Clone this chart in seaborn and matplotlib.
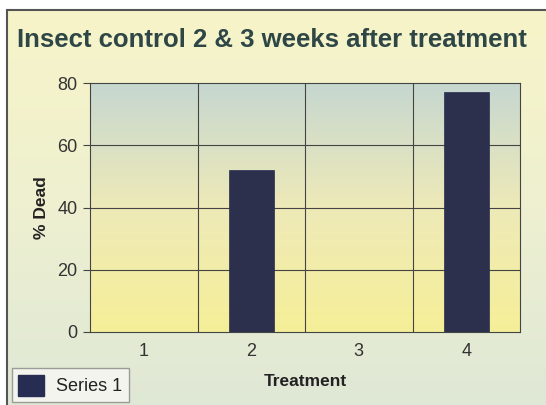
import numpy as np
import pandas as pd
import matplotlib
matplotlib.use("Agg")
import matplotlib.pyplot as plt
from matplotlib.colors import LinearSegmentedColormap
from matplotlib.patches import Rectangle
import seaborn as sns

# data
treatments = ["1", "2", "3", "4"]
pct_dead = [0, 52, 0, 77]
series_name = "Series 1"

df = pd.DataFrame({"Treatment": treatments, "Dead": pct_dead, "Series": series_name})

sns.set_style("white")
plt.rcParams["font.family"] = ["Liberation Sans", "DejaVu Sans"]

fig = plt.figure(figsize=(5.46, 4.05), dpi=100)
fig.patch.set_facecolor("white")

# outer framed background (cream at top -> pale green at bottom)
bg = fig.add_axes([0, 0, 1, 1], zorder=-5)
bg.set_xlim(0, 1)
bg.set_ylim(0, 1)
bg.axis("off")
bg_cmap = LinearSegmentedColormap.from_list("bg", ["#dfe8d6", "#eef0d0", "#f7f4c8"])
grad = np.linspace(0, 1, 256).reshape(-1, 1)
x0, y1 = 7 / 546, 1 - 10 / 405
bg.imshow(grad, cmap=bg_cmap, origin="lower", aspect="auto",
          extent=[x0, 1, 0, y1])
bg.add_patch(Rectangle((x0, -0.01), 1.02 - x0, y1 + 0.01, fill=False,
                       edgecolor="#555555", linewidth=1.5))

# plot area
ax = fig.add_axes([90 / 546, 73 / 405, 430 / 546, 249 / 405])
plot_cmap = LinearSegmentedColormap.from_list("pa", ["#f6ef98", "#eeeab8", "#c6d7d0"])
ax.imshow(grad, cmap=plot_cmap, origin="lower", aspect="auto",
          extent=[-0.5, 3.5, 0, 80], zorder=0)

sns.barplot(data=df, x="Treatment", y="Dead", hue="Series", palette=["#272c52"],
            width=0.42, ax=ax, zorder=3, legend=False, edgecolor="#272c52",
            linewidth=0.5)

ax.set_xlim(-0.5, 3.5)
ax.set_ylim(0, 80)
ax.set_yticks([0, 20, 40, 60, 80])
ax.set_xticks(range(len(treatments)))
ax.set_xticklabels(treatments)

# grid lines at category boundaries and y ticks
for b in [0.5, 1.5, 2.5]:
    ax.axvline(b, color="#444444", linewidth=0.8, zorder=2)
for v in [20, 40, 60]:
    ax.axhline(v, color="#444444", linewidth=0.8, zorder=2)
ax.set_xticks([0.5, 1.5, 2.5], minor=True)
ax.tick_params(axis="x", which="minor", length=5, color="#444444", width=0.8)
ax.tick_params(axis="x", which="major", length=0, labelsize=13, labelcolor="#333333", pad=8)
ax.tick_params(axis="y", length=5, color="#444444", width=0.8, labelsize=13,
               labelcolor="#333333", pad=4, left=True)

for s in ax.spines.values():
    s.set_color("#444444")
    s.set_linewidth(0.8)

ax.set_xlabel("Treatment", fontsize=12.5, fontweight="bold", color="#222222", labelpad=10)
ax.set_ylabel("% Dead", fontsize=12.5, fontweight="bold", color="#222222", labelpad=6)

fig.text(272 / 546, 1 - 40 / 405, "Insect control 2 & 3 weeks after treatment",
         ha="center", va="center", fontsize=18.5, fontweight="bold", color="#2f4646")

# legend
handle = Rectangle((0, 0), 1, 1, facecolor="#272c52", edgecolor="#272c52")
leg = fig.legend([handle], [series_name], loc="lower left",
                 bbox_to_anchor=(3 / 546, -6 / 405), fontsize=13, frameon=True,
                 fancybox=False, handlelength=1.4, handleheight=1.4,
                 borderpad=0.35, handletextpad=0.7)
leg.get_frame().set_edgecolor("#888888")
leg.get_frame().set_facecolor("#f8f8f4")
for t in leg.get_texts():
    t.set_color("#222222")

fig.savefig("out.png", dpi=100)
